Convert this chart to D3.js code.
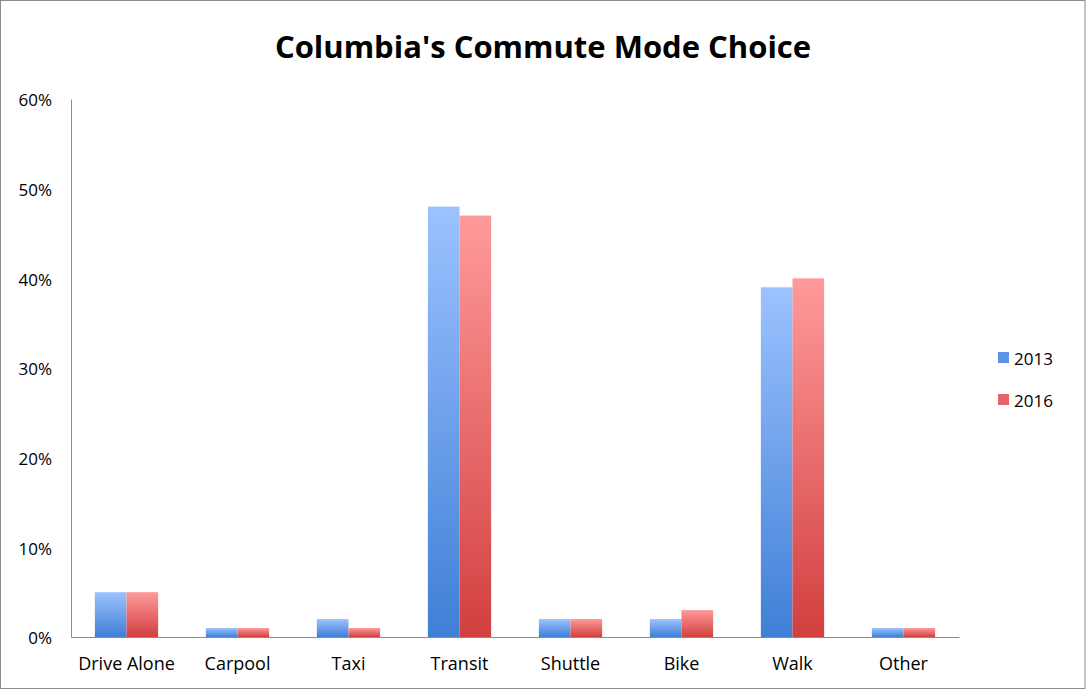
<!DOCTYPE html>
<html>
<head>
<meta charset="utf-8">
<script src="https://cdn.jsdelivr.net/npm/d3@7"></script>
<style>
  body { margin: 0; background: #fff; }
  svg { display: block; font-family: "Open Sans", "Noto Sans", sans-serif; }
</style>
</head>
<body>
<script>
const categories = ["Drive Alone", "Carpool", "Taxi", "Transit", "Shuttle", "Bike", "Walk", "Other"];
const seriesNames = ["2013", "2016"];
const values2013 = [5, 1, 2, 48, 2, 2, 39, 1];
const values2016 = [5, 1, 1, 47, 2, 3, 40, 1];
const yTicks = [0, 10, 20, 30, 40, 50, 60];

const width = 1086, height = 690;
const margin = { top: 99, right: 127, bottom: 53, left: 71 };
const fontFamily = '"Open Sans", "Noto Sans", sans-serif';

const svg = d3.select("body").append("svg")
  .attr("width", width)
  .attr("height", height);

// Gradients for the bars (lighter at the top)
const defs = svg.append("defs");
const gradients = [
  { id: "grad2013", top: "#9cc2ff", bottom: "#3f7fd6" },
  { id: "grad2016", top: "#ff9a9a", bottom: "#d23f3f" }
];
gradients.forEach(g => {
  const lg = defs.append("linearGradient")
    .attr("id", g.id)
    .attr("x1", 0).attr("y1", 0).attr("x2", 0).attr("y2", 1);
  lg.append("stop").attr("offset", "0%").attr("stop-color", g.top);
  lg.append("stop").attr("offset", "100%").attr("stop-color", g.bottom);
});
const legendColors = ["#5b93e6", "#e66565"];

// Outer border
svg.append("rect")
  .attr("x", 0.5).attr("y", 0.5)
  .attr("width", width - 1.5).attr("height", height - 2)
  .attr("fill", "none")
  .attr("stroke", "#8c8c8c")
  .attr("stroke-width", 1);

// Title
svg.append("text")
  .attr("x", 543)
  .attr("y", 58)
  .attr("text-anchor", "middle")
  .attr("font-size", "31px")
  .attr("font-weight", "bold")
  .attr("fill", "#000")
  .text("Columbia's Commute Mode Choice");

const x = d3.scaleBand()
  .domain(categories)
  .range([margin.left, width - margin.right])
  .paddingInner(0.43)
  .paddingOuter(0.215);

const xSeries = d3.scaleBand()
  .domain(seriesNames)
  .range([0, x.bandwidth()]);

const y = d3.scaleLinear()
  .domain([0, 60])
  .range([height - margin.bottom, margin.top]);

// Bars
const data = categories.map((c, i) => ({ cat: c, vals: [values2013[i], values2016[i]] }));
const groups = svg.append("g")
  .selectAll("g")
  .data(data)
  .join("g")
  .attr("transform", d => `translate(${x(d.cat)},0)`);

groups.selectAll("rect")
  .data(d => d.vals.map((v, i) => ({ key: seriesNames[i], v, i })))
  .join("rect")
  .attr("x", d => xSeries(d.key))
  .attr("y", d => y(d.v))
  .attr("width", xSeries.bandwidth())
  .attr("height", d => y(0) - y(d.v))
  .attr("fill", d => `url(#grad${d.key})`);

// Y axis
const yAxis = svg.append("g")
  .attr("transform", `translate(${margin.left},0)`)
  .call(d3.axisLeft(y).tickValues(yTicks).tickFormat(d => d + "%").tickSize(0).tickPadding(19))
  .attr("font-family", fontFamily);
yAxis.select(".domain").attr("stroke", "#8c8c8c");
yAxis.selectAll("text").attr("font-size", "17px").attr("fill", "#000").attr("dy", "0.4em");

// X axis
const xAxis = svg.append("g")
  .attr("transform", `translate(0,${y(0)})`)
  .call(d3.axisBottom(x).tickSize(0).tickPadding(20))
  .attr("font-family", fontFamily);
xAxis.select(".domain").attr("stroke", "#8c8c8c");
xAxis.selectAll("text").attr("font-size", "18px").attr("fill", "#000");

// Legend
const legend = svg.append("g")
  .attr("transform", "translate(998,352)");
seriesNames.forEach((name, i) => {
  const entry = legend.append("g")
    .attr("transform", `translate(0,${i * 42})`);
  entry.append("rect")
    .attr("width", 11).attr("height", 11)
    .attr("fill", legendColors[i]);
  entry.append("text")
    .attr("x", 16).attr("y", 13)
    .attr("font-size", "17px")
    .attr("fill", "#000")
    .text(name);
});
</script>
</body>
</html>
